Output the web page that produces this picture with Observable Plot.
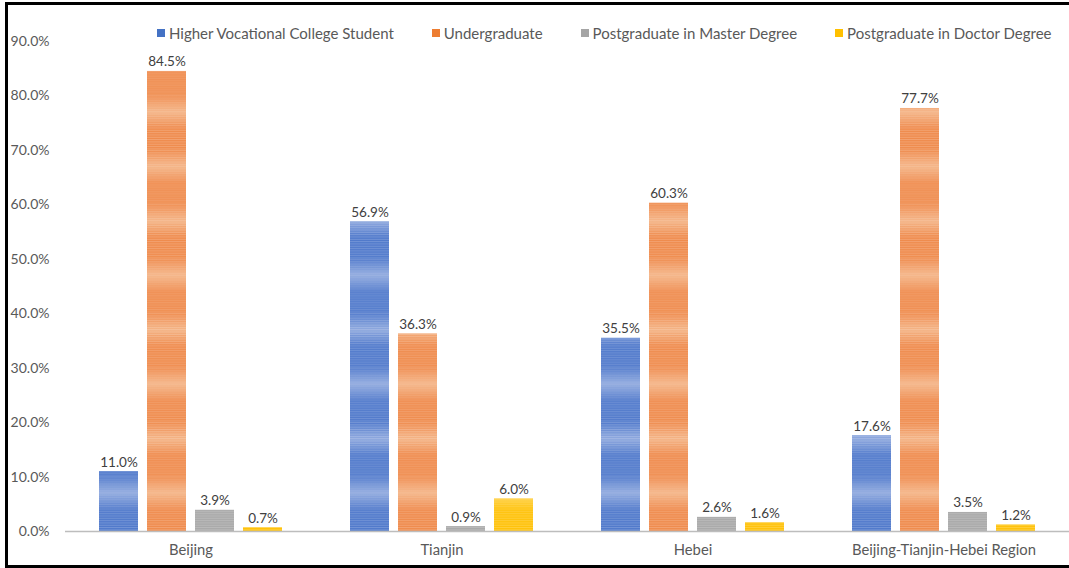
<!DOCTYPE html>
<html>
<head>
<meta charset="utf-8">
<script src="https://cdn.jsdelivr.net/npm/d3@7"></script>
<script src="https://cdn.jsdelivr.net/npm/@observablehq/plot@0.6"></script>
<style>
  html, body { margin: 0; padding: 0; background: #fff; overflow: hidden; }
  #wrap { position: relative; width: 1069px; height: 568px; overflow: hidden; font-family: Lato, "Open Sans", sans-serif; }
  #chart { position: absolute; left: 0; top: 0; }
  .edge { position: absolute; background: #000; pointer-events: none; }
  #legend { position: absolute; left: 157px; top: 24px; display: flex; gap: 38px; font-size: 15px; color: #595959; white-space: nowrap; }
  #legend .item { display: flex; align-items: center; }
  #legend .sw { width: 8px; height: 8px; margin-right: 4px; display: inline-block; }
</style>
</head>
<body>
<div id="wrap">
  <div id="chart"></div>
  <div id="legend"></div>
  <div class="edge" style="left:5px;top:2px;width:1064px;height:3px"></div>
  <div class="edge" style="left:5px;top:2px;width:3px;height:566px"></div>
  <div class="edge" style="left:5px;top:565px;width:1064px;height:3px"></div>
</div>
<script>
const regions = ["Beijing", "Tianjin", "Hebei", "Beijing-Tianjin-Hebei Region"];
const levels = ["Higher Vocational College Student", "Undergraduate", "Postgraduate in Master Degree", "Postgraduate in Doctor Degree"];
const vocational = [11.0, 56.9, 35.5, 17.6];
const undergraduate = [84.5, 36.3, 60.3, 77.7];
const master = [3.9, 0.9, 2.6, 3.5];
const doctor = [0.7, 6.0, 1.6, 1.2];
const yTicks = [0, 10, 20, 30, 40, 50, 60, 70, 80, 90];
const baseColors = ["#5079cb", "#ef8b4d", "#a9a9a9", "#ffc20a"];
const lightColors = ["#8ea8de", "#f4b385", "#c8c8c8", "#ffd65a"];
const legendColors = ["#4472c4", "#ed7d31", "#a5a5a5", "#ffc000"];

const series = [vocational, undergraduate, master, doctor];
const data = [];
regions.forEach((r, i) => levels.forEach((l, j) => data.push({region: r, level: l, value: series[j][i]})));

const chart = Plot.plot({
  width: 1069,
  height: 568,
  marginLeft: 64,
  marginRight: 0,
  marginTop: 41,
  marginBottom: 37,
  style: {fontFamily: "Lato, 'Open Sans', sans-serif", fontSize: "13px", color: "#595959", background: "transparent"},
  fx: {domain: regions, padding: 0, range: [63.6, 1070.8], axis: null},
  x: {domain: levels, paddingInner: 0.18, paddingOuter: 0.66, axis: null},
  y: {domain: [0, 90], axis: null},
  color: {domain: levels, range: levels.map((_, i) => `url(#pat${i})`)},
  marks: [
    Plot.barY(data, {fx: "region", x: "level", y: "value", fill: "level"}),
    Plot.text(data, {fx: "region", x: "level", y: "value", text: d => d.value.toFixed(1) + "%",
      lineAnchor: "bottom", dy: -5, fill: "#404040", fontSize: 13.5}),
    Plot.ruleY([0], {stroke: "#bdbdbd", strokeWidth: 1.5}),
    Plot.axisY({ticks: yTicks, tickFormat: d => d.toFixed(1) + "%", tickSize: 0, tickPadding: 16, fill: "#595959", fontSize: 14, label: null}),
    Plot.axisFx({anchor: "bottom", tickSize: 0, tickPadding: 13, fill: "#595959", fontSize: 14.8, label: null})
  ]
});

// patterns for striped bars
const ns = "http://www.w3.org/2000/svg";
const defs = document.createElementNS(ns, "defs");
const period = (531 - 41) / 9;
baseColors.forEach((c, i) => {
  const g = document.createElementNS(ns, "linearGradient");
  g.setAttribute("id", `grad${i}`);
  g.setAttribute("x1", 0); g.setAttribute("y1", 0); g.setAttribute("x2", 0); g.setAttribute("y2", 1);
  [[0, c], [0.3, lightColors[i]], [0.6, c], [1, c]].forEach(([o, col]) => {
    const s = document.createElementNS(ns, "stop");
    s.setAttribute("offset", o); s.setAttribute("stop-color", col);
    g.appendChild(s);
  });
  defs.appendChild(g);
  const p = document.createElementNS(ns, "pattern");
  p.setAttribute("id", `pat${i}`);
  p.setAttribute("patternUnits", "userSpaceOnUse");
  p.setAttribute("x", 0); p.setAttribute("y", 41);
  p.setAttribute("width", 20); p.setAttribute("height", period);
  const r = document.createElementNS(ns, "rect");
  r.setAttribute("width", 20); r.setAttribute("height", period);
  r.setAttribute("fill", `url(#grad${i})`);
  p.appendChild(r);
  for (let k = 0; k * 2.3 < period; k++) {
    const l = document.createElementNS(ns, "rect");
    l.setAttribute("y", k * 2.3); l.setAttribute("width", 20); l.setAttribute("height", 0.9);
    l.setAttribute("fill", "#ffffff"); l.setAttribute("fill-opacity", 0.22);
    p.appendChild(l);
  }
  defs.appendChild(p);
});
chart.insertBefore(defs, chart.firstChild);
document.getElementById("chart").appendChild(chart);

const legend = document.getElementById("legend");
levels.forEach((l, i) => {
  const it = document.createElement("div");
  it.className = "item";
  it.innerHTML = `<span class="sw" style="background:${legendColors[i]}"></span><span>${l}</span>`;
  legend.appendChild(it);
});
</script>
</body>
</html>
